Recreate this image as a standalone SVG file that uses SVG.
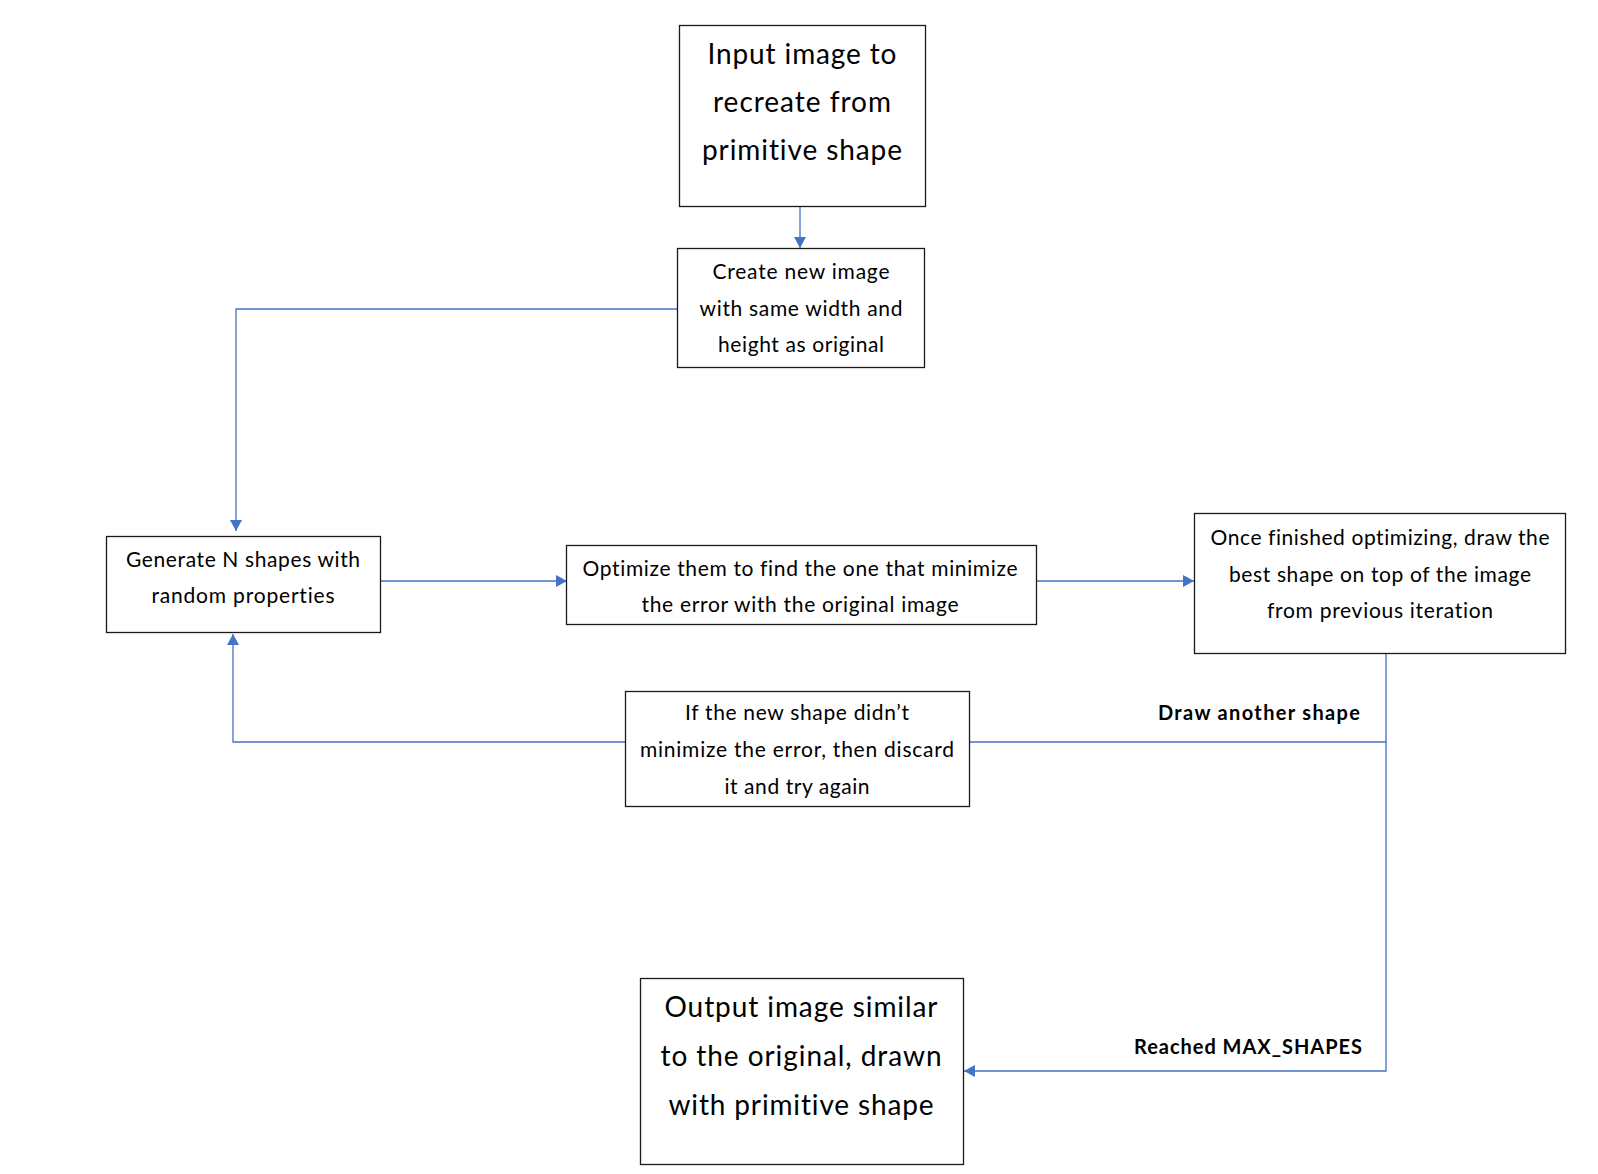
<svg xmlns="http://www.w3.org/2000/svg" width="1598" height="1174" viewBox="0 0 1598 1174">
  <style>
    .box { fill: #ffffff; stroke: #1a1a1a; stroke-width: 1.3; }
    .conn { fill: none; stroke: #4472C4; stroke-width: 1.3; }
    text { font-variant-ligatures: none; font-feature-settings: "liga" 0, "clig" 0; }
    .t { font-family: Lato, "Open Sans", "Liberation Sans", sans-serif; fill: #000000; text-anchor: middle; }
    .big { font-size: 28px; }
    .mid { font-size: 21px; }
    .lbl { font-family: Lato, "Open Sans", "Liberation Sans", sans-serif; font-size: 20px; font-weight: bold; fill: #000000; text-anchor: middle; }
  </style>
  <defs>
    <marker id="arrow" viewBox="0 0 10 10" refX="10" refY="5" markerWidth="11" markerHeight="12" markerUnits="userSpaceOnUse" orient="auto" preserveAspectRatio="none">
      <path d="M0,0 L10,5 L0,10 z" fill="#4472C4"/>
    </marker>
  </defs>
  <rect width="1598" height="1174" fill="#ffffff"/>

  <!-- connectors -->
  <g id="connectors">
    <path class="conn" d="M800,206 V248" marker-end="url(#arrow)"/>
    <path class="conn" d="M677,309 H236 V531" marker-end="url(#arrow)"/>
    <path class="conn" d="M380,581 H567" marker-end="url(#arrow)"/>
    <path class="conn" d="M1036,581 H1194" marker-end="url(#arrow)"/>
    <path class="conn" d="M1386,653 V742 H233 V634" marker-end="url(#arrow)"/>
    <path class="conn" d="M1386,742 V1071 H964" marker-end="url(#arrow)"/>
    <text class="lbl" x="1259" y="720" textLength="202">Draw another shape</text>
    <text class="lbl" x="1248" y="1054" textLength="228">Reached MAX_SHAPES</text>
  </g>

  <!-- input image -->
  <g id="node-input">
    <rect class="box" x="679.5" y="25.5" width="246" height="181"/>
    <text class="t big" x="802" y="64" textLength="189">Input image to</text>
    <text class="t big" x="802" y="112" textLength="178">recreate from</text>
    <text class="t big" x="802" y="160" textLength="200">primitive shape</text>
  </g>

  <!-- blank canvas -->
  <g id="node-create">
    <rect class="box" x="677.5" y="248.5" width="247" height="119"/>
    <text class="t mid" x="801" y="279" textLength="177">Create new image</text>
    <text class="t mid" x="801" y="316" textLength="203">with same width and</text>
    <text class="t mid" x="801" y="352" textLength="166">height as original</text>
  </g>

  <!-- random shapes -->
  <g id="node-generate">
    <rect class="box" x="106.5" y="536.5" width="274" height="96"/>
    <text class="t mid" x="243" y="567" textLength="234">Generate N shapes with</text>
    <text class="t mid" x="243" y="603" textLength="183">random properties</text>
  </g>

  <!-- optimisation -->
  <g id="node-optimize">
    <rect class="box" x="566.5" y="545.5" width="470" height="79"/>
    <text class="t mid" x="800" y="576" textLength="435">Optimize them to find the one that minimize</text>
    <text class="t mid" x="800" y="612" textLength="317">the error with the original image</text>
  </g>

  <!-- draw best shape -->
  <g id="node-draw">
    <rect class="box" x="1194.5" y="513.5" width="371" height="140"/>
    <text class="t mid" x="1380" y="545" textLength="339">Once finished optimizing, draw the</text>
    <text class="t mid" x="1380" y="582" textLength="302">best shape on top of the image</text>
    <text class="t mid" x="1380" y="618" textLength="226">from previous iteration</text>
  </g>

  <!-- retry -->
  <g id="node-retry">
    <rect class="box" x="625.5" y="691.5" width="344" height="115"/>
    <text class="t mid" x="797" y="720" textLength="224">If the new shape didn’t</text>
    <text class="t mid" x="797" y="757" textLength="314">minimize the error, then discard</text>
    <text class="t mid" x="797" y="794" textLength="145">it and try again</text>
  </g>

  <!-- result -->
  <g id="node-output">
    <rect class="box" x="640.5" y="978.5" width="323" height="186"/>
    <text class="t big" x="801" y="1017" textLength="273">Output image similar</text>
    <text class="t big" x="801" y="1066" textLength="281">to the original, drawn</text>
    <text class="t big" x="801" y="1115" textLength="265">with primitive shape</text>
  </g>
</svg>
